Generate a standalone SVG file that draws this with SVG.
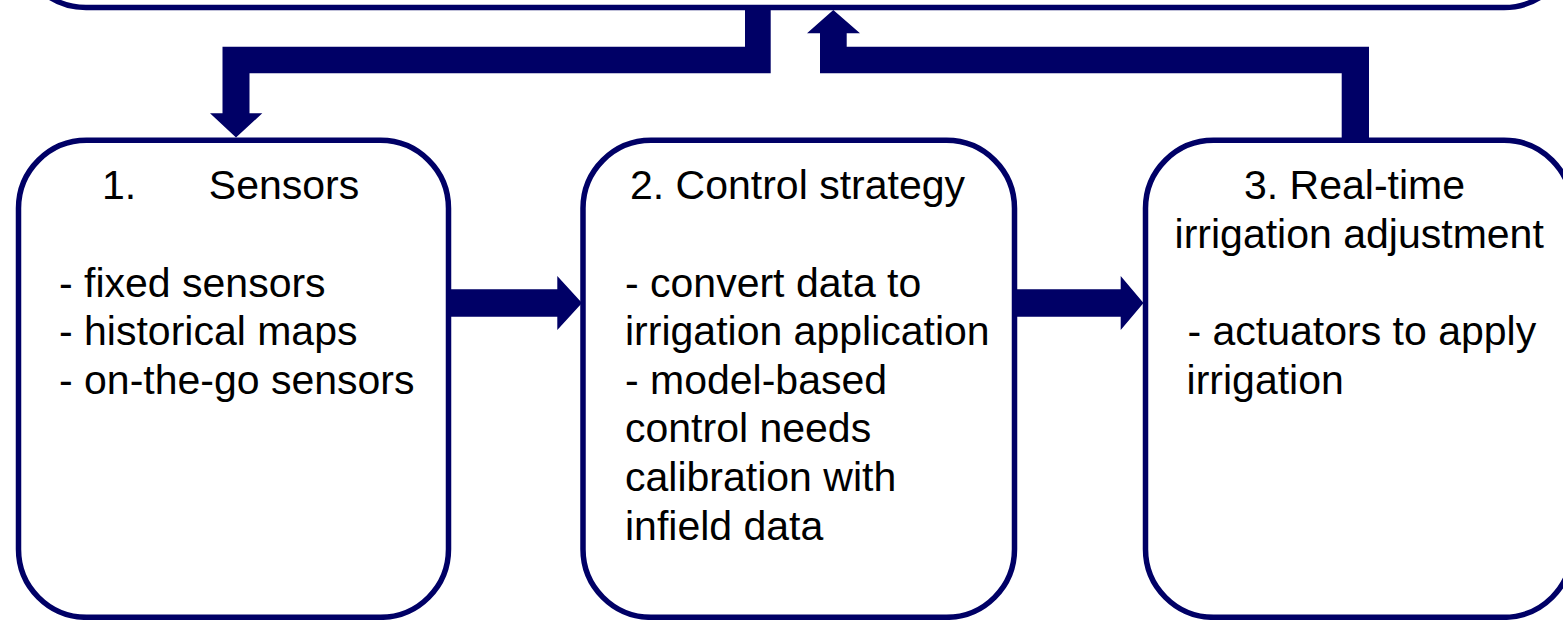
<svg xmlns="http://www.w3.org/2000/svg" width="1563" height="620" viewBox="0 0 1563 620">
<style>
.box{fill:#ffffff;stroke:#000066;stroke-width:5.5}
.conn{fill:#000066;stroke:none}
text{font-family:"Liberation Sans",Arial,sans-serif;font-size:41px;fill:#000000}
</style>
<rect width="1563" height="620" fill="#ffffff"/>
<g id="node-top">
<rect class="box" x="18" y="-200" width="1554" height="207.5" rx="68" ry="68"/>
</g>
<g id="node-sensors">
<rect class="box" x="18.5" y="140.3" width="430" height="477" rx="68" ry="68"/>
<text><tspan x="102" y="199.3">1.</tspan><tspan x="208.8" y="199.3">Sensors</tspan></text>
<text x="59" y="296.5">- fixed sensors</text>
<text x="59" y="345.1">- historical maps</text>
<text x="59" y="393.7">- on-the-go sensors</text>
</g>
<g id="node-control">
<rect class="box" x="583" y="140.3" width="431.5" height="477" rx="68" ry="68"/>
<text x="630" y="199.3">2. Control strategy</text>
<text x="625" y="296.5">- convert data to</text>
<text x="625" y="345.1">irrigation application</text>
<text x="625" y="393.7">- model-based</text>
<text x="625" y="442.3">control needs</text>
<text x="625" y="490.9">calibration with</text>
<text x="625" y="539.5">infield data</text>
</g>
<g id="node-realtime">
<rect class="box" x="1145.5" y="140.3" width="426.5" height="477" rx="68" ry="68"/>
<text x="1244" y="199.3">3. Real-time</text>
<text x="1174.6" y="247.9">irrigation adjustment</text>
<text x="1187.5" y="345.1">- actuators to apply</text>
<text x="1186.6" y="393.7">irrigation</text>
</g>
<g id="connectors">
<polygon class="conn" points="745,9 770.7,9 770.7,73.3 249.5,73.3 249.5,113.3 262.3,113.3 236,137.5 210,113.3 222.5,113.3 222.5,46.7 745,46.7"/>
<polygon class="conn" points="1341.7,138 1369,138 1369,46.7 846.7,46.7 846.7,33.3 860,33.3 833.3,10 807,33.3 820,33.3 820,73.3 1341.7,73.3"/>
<polygon class="conn" points="450,289.3 557.3,289.3 557.3,276 582,303 557.3,330 557.3,316.7 450,316.7"/>
<polygon class="conn" points="1016,289.3 1120.7,289.3 1120.7,276 1143.5,303 1120.7,330 1120.7,316.7 1016,316.7"/>
</g>
</svg>
